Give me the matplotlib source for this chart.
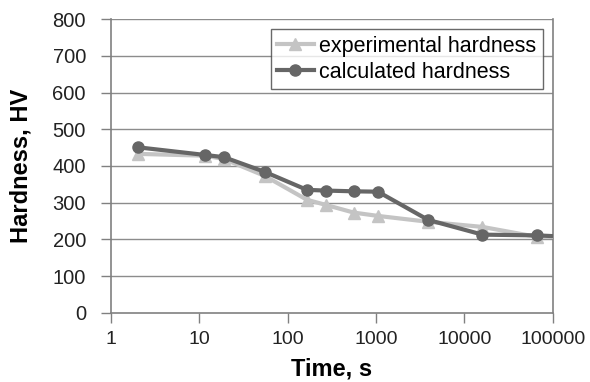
import numpy as np
import matplotlib
matplotlib.use('Agg')
import matplotlib.pyplot as plt

#====== data
t_exp = [2, 11.6, 19, 55, 165, 270, 560, 1050, 3900, 16000, 66000, 100000]
hv_exp = [433, 428, 419, 373, 308, 294, 273, 264, 248, 234, 207, 207]

t_calc = [2, 11.6, 19, 55, 165, 270, 560, 1050, 3900, 16000, 66000, 100000]
hv_calc = [451, 430, 424, 384, 335, 333, 331, 330, 253, 213, 211, 209]

xticks = [1, 10, 100, 1000, 10000, 100000]
xticklabels = ['1', '10', '100', '1000', '10000', '100000']
yticks = [0, 100, 200, 300, 400, 500, 600, 700, 800]

#====== plot
plt.rcParams['font.family'] = ['Liberation Sans', 'DejaVu Sans']
fig = plt.figure(figsize=(5.9, 3.82), dpi=100)
ax = fig.add_axes([0.188, 0.181, 0.749, 0.769])

for y in yticks[1:]:
    ax.axhline(y, color='#8c8c8c', lw=1.0, zorder=1)

# last point sits on the right border, no marker drawn there
mk = list(range(len(t_exp) - 1))
ax.plot(t_exp, hv_exp, color='#c4c4c4', lw=3, marker='^', ms=8, markevery=mk,
        label='experimental hardness', zorder=3)
ax.plot(t_calc, hv_calc, color='#666666', lw=3, marker='o', ms=8, markevery=mk,
        label='calculated hardness', zorder=4)

ax.set_xscale('log')
ax.set_xlim(1, 100000)
ax.set_ylim(0, 800)
ax.set_xticks(xticks)
ax.set_xticklabels(xticklabels)
ax.minorticks_off()
ax.set_yticks(yticks)
ax.tick_params(axis='both', labelsize=14, colors='#222222', length=7, width=1)
ax.tick_params(axis='x', pad=6)
ax.tick_params(axis='y', labelsize=14.5, pad=11)
ax.tick_params(axis='both', color='#808080')

for s in ['left', 'right', 'bottom']:
    ax.spines[s].set_color('#808080')
    ax.spines[s].set_linewidth(1.2)
ax.spines['top'].set_visible(False)

ax.set_xlabel('Time, s', fontsize=17, fontweight='bold', labelpad=7)
ax.set_ylabel('Hardness, HV', fontsize=17, fontweight='bold', labelpad=14)

leg = ax.legend(loc='upper right', bbox_to_anchor=(0.977, 0.966), fontsize=15.5,
                frameon=True, fancybox=False, handlelength=1.7, handletextpad=0.25,
                borderpad=0.3, labelspacing=0.25, borderaxespad=0.0)
leg.get_frame().set_edgecolor('#444444')
leg.get_frame().set_linewidth(1.0)

plt.savefig('out.png', dpi=100)
